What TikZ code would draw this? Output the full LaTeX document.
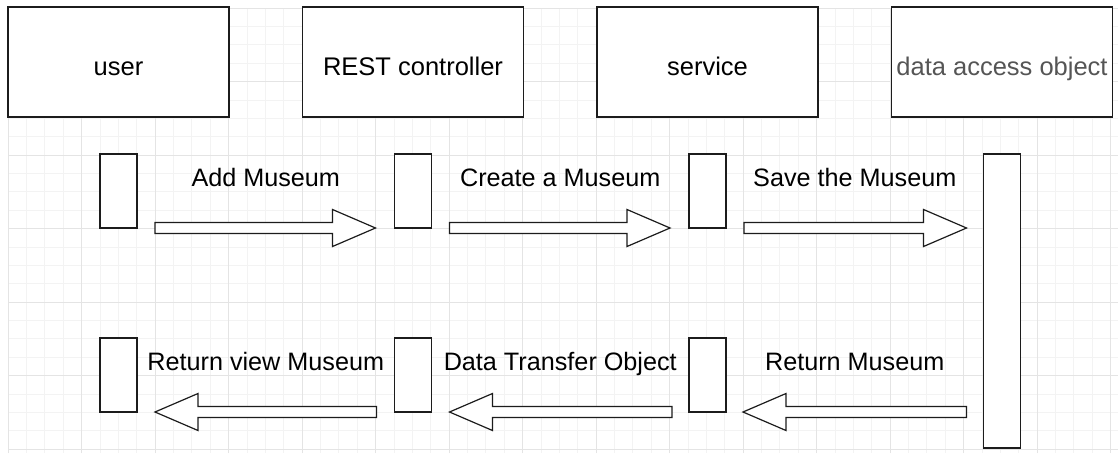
\documentclass[tikz,border=0pt]{standalone}
\usepackage{fontspec}
\setmainfont{Liberation Sans}
\usetikzlibrary{positioning,calc}
\definecolor{lineblack}{RGB}{28,28,28}
\definecolor{daogrey}{RGB}{85,85,85}
\definecolor{gridmajor}{RGB}{228,228,228}
\definecolor{gridminor}{RGB}{243,243,243}
\tikzset{
  lane/.style={draw=lineblack, line width=1.2pt, fill=white, minimum width=221pt, minimum height=110pt, inner sep=0pt, outer sep=0pt, text height=26pt, text depth=0pt, font=\fontsize{25.5}{28}\selectfont},
  act/.style={draw=lineblack, line width=1.2pt, fill=white, minimum width=37pt, minimum height=74pt, inner sep=0pt, outer sep=0pt},
  msg/.style={inner sep=0pt, text height=17.5pt, text depth=0pt, font=\fontsize{25.2}{28}\selectfont},
  blk/.style={draw=lineblack, line width=1.2pt, fill=white, line join=miter},
}
% block arrow from tail #1 to tip #2
\newcommand{\blockarr}[2]{%
  \draw[blk] ($(#1)!5.5pt!90:(#2)$) -- ($(#2)!43pt!(#1)!5.5pt!-90:(#1)$)
    -- ($(#2)!43pt!(#1)!18.5pt!-90:(#1)$) -- (#2)
    -- ($(#2)!43pt!(#1)!18.5pt!90:(#1)$) -- ($(#2)!43pt!(#1)!5.5pt!90:(#1)$)
    -- ($(#1)!5.5pt!-90:(#2)$) -- cycle;}

\begin{document}
\begin{tikzpicture}[x=1pt, y=-1pt]
  \useasboundingbox[fill=white] (0,0) rectangle (1118,453);
  % background grid
  \begin{scope}[shift={(8,8)}]
    \draw[gridminor, line width=0.6pt, step=18.375pt] (0,0) grid (1110,445);
    \draw[gridmajor, line width=0.8pt, step=73.5pt] (0,0) grid (1110,445);
  \end{scope}

  % lanes
  \node[lane] (user) at (118.5,62) {user};
  \node[lane, right=73.5pt of user] (rest) {REST controller};
  \node[lane, right=73.5pt of rest] (service) {service};
  \node[lane, right=73.5pt of service, text=daogrey] (dao) {data access object};

  % activations
  \node[act, below=37pt of user] (uact1) {};
  \node[act, below=37pt of rest] (ract1) {};
  \node[act, below=37pt of service] (sact1) {};
  \node[act, below=110pt of uact1] (uact2) {};
  \node[act, below=110pt of ract1] (ract2) {};
  \node[act, below=110pt of sact1] (sact2) {};
  \node[act, below=37pt of dao, minimum height=294pt] (dact) {};

  % arrow ends
  \coordinate (addT) at ($(uact1.south east)+(18,0)$);
  \coordinate (addH) at ($(ract1.south west)+(-19,0)$);
  \coordinate (createT) at ($(ract1.south east)+(18,0)$);
  \coordinate (createH) at ($(sact1.south west)+(-19,0)$);
  \coordinate (saveT) at ($(sact1.south east)+(18,0)$);
  \coordinate (saveH) at ($(dact.west |- sact1.south)+(-17,0)$);
  \coordinate (retT) at ($(dact.west |- sact2.south)+(-17,0)$);
  \coordinate (retH) at ($(sact2.south east)+(17,0)$);
  \coordinate (dtoT) at ($(sact2.south west)+(-17,0)$);
  \coordinate (dtoH) at ($(ract2.south east)+(18,0)$);
  \coordinate (viewT) at ($(ract2.south west)+(-18,0)$);
  \coordinate (viewH) at ($(uact2.south east)+(18,0)$);

  \blockarr{addT}{addH}
  \blockarr{createT}{createH}
  \blockarr{saveT}{saveH}
  \blockarr{retT}{retH}
  \blockarr{dtoT}{dtoH}
  \blockarr{viewT}{viewH}

  % messages
  \node[msg] (addlbl) at ($(uact1)!.5!(ract1)+(0,-13.5)$) {Add Museum};
  \node[msg] (createlbl) at ($(ract1)!.5!(sact1)+(0,-13.5)$) {Create a Museum};
  \node[msg] (savelbl) at ($(sact1)!.5!(dact.center |- sact1)+(0,-13.5)$) {Save the Museum};
  \node[msg] (viewlbl) at ($(uact2)!.5!(ract2)+(0,-13)$) {Return view Museum};
  \node[msg] (dtolbl) at ($(ract2)!.5!(sact2)+(0,-13)$) {Data Transfer Object};
  \node[msg] (retlbl) at ($(sact2)!.5!(dact.center |- sact2)+(0,-13)$) {Return Museum};
\end{tikzpicture}
\end{document}
